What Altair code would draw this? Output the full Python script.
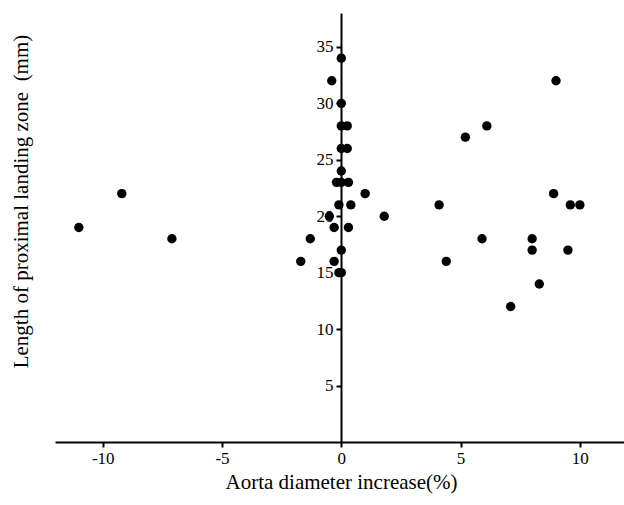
import altair as alt
import pandas as pd

# Aorta diameter increase (%) against length of the proximal landing zone (mm)
diameter_increase = [
    0.0, -0.4, 0.0, 0.0, 0.25, 0.0, 0.25, 0.0, -0.2, 0.0, 0.3, 1.0,
    -0.1, 0.4, -0.5, 1.8, -0.3, 0.3, -1.3, 0.0, -1.7, -0.3, 0.0, -0.1,
    9.0, 6.1, 5.2, 8.9, 4.1, 9.6, 10.0, 5.9, 8.0, 8.0, 9.5, 4.4, 8.3, 7.1,
    -9.2, -11.0, -7.1,
]
landing_zone = [
    34, 32, 30, 28, 28, 26, 26, 24, 23, 23, 23, 22,
    21, 21, 20, 20, 19, 19, 18, 17, 16, 16, 15, 15,
    32, 28, 27, 22, 21, 21, 21, 18, 18, 17, 17, 16, 14, 12,
    22, 19, 18,
]
x_ticks = [-10, -5, 0, 5, 10]
y_ticks = [5, 10, 15, 20, 25, 30, 35]

df = pd.DataFrame({"increase": diameter_increase, "length": landing_zone})

FONT = "Liberation Serif"

chart = (
    alt.Chart(df)
    .mark_circle(size=88, color="black", opacity=1)
    .encode(
        x=alt.X(
            "increase:Q",
            scale=alt.Scale(domain=[-12, 11.85], nice=False, zero=False),
            axis=alt.Axis(
                values=x_ticks,
                labelExpr="'' + datum.value",
                title="Aorta diameter increase(%)",
                titleX=286,
                titleY=46,
                titleBaseline="alphabetic",
                titleFontSize=21,
                titleFontWeight="normal",
                labelFontSize=17,
                labelPadding=3,
                tickSize=5,
                grid=False,
            ),
        ),
        y=alt.Y(
            "length:Q",
            scale=alt.Scale(domain=[0, 38], nice=False),
            axis=alt.Axis(
                values=y_ticks,
                offset=-286,
                title="Length of proximal landing zone\u00a0 (mm)",
                titleX=-320,
                titleY=188,
                titleAngle=-90,
                titleAlign="center",
                titleBaseline="middle",
                titleFontSize=21,
                titleFontWeight="normal",
                labelFontSize=17,
                labelPadding=3,
                tickSize=5,
                grid=False,
            ),
        ),
    )
    .properties(
        width=569,
        height=429,
        autosize=alt.AutoSizeParams(type="none"),
        padding={"left": 55, "top": 13, "right": 0, "bottom": 63},
    )
    .configure_view(stroke=None)
    .configure_axis(
        labelFont=FONT,
        titleFont=FONT,
        labelColor="black",
        titleColor="black",
        domainColor="black",
        domainWidth=2,
        tickColor="black",
        tickWidth=2,
    )
)

chart.save("out.html", embed_options={"renderer": "svg", "actions": False})
